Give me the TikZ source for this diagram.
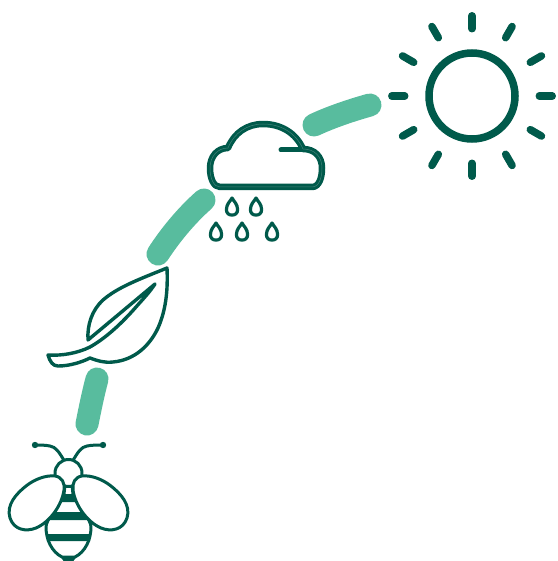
\documentclass[tikz,border=0pt]{standalone}
\definecolor{deep}{HTML}{005A4B}
\definecolor{mint}{HTML}{58BC9E}
\colorlet{sheen}{deep!75!white}
\tikzset{
  link/.style={draw=mint,line width=23pt,line cap=round},
  ray/.style={draw=deep,line width=7.5pt,line cap=round},
  icon/.style={draw=deep,line join=round,line cap=round},
  drop/.pic={\draw[icon,line width=3.2pt,fill=white] (0,-8.5) .. controls (-1.5,-5.5) and (-5.6,-2.5) .. (-5.6,3) .. controls (-5.6,6.8) and (-3.2,8.6) .. (0,8.6) .. controls (3.2,8.6) and (5.6,6.8) .. (5.6,3) .. controls (5.6,-2.5) and (1.5,-5.5) .. (0,-8.5) -- cycle;}
}
\begin{document}
\begin{tikzpicture}[x=1pt,y=-1pt]
\path[use as bounding box,fill=white] (0,0) rectangle (557,561);
\clip (0,0) rectangle (557,561);
% anchors of the connectors
\coordinate (sunA) at (370,105);
\coordinate (sunB) at (314,125);
\coordinate (rainA) at (204,200);
\coordinate (rainB) at (158,254);
\coordinate (leafA) at (97,379);
\coordinate (leafB) at (87,424);
\draw[link] (sunA) .. controls (352,110) and (331,117) .. (sunB);
\draw[link] (rainA) .. controls (187,215) and (171,234) .. (rainB);
\draw[link] (leafA) .. controls (93,394) and (90,409) .. (leafB);
% sun
\node[circle,draw=deep,line width=7.5pt,minimum size=86pt,inner sep=0pt] (sun) at (472,96) {};
\foreach \a in {0,30,...,330}
  \draw[ray,shift={(sun.center)}] (\a:67.3) -- (\a:80.2);
% cloud
\draw[icon,line width=6.5pt] (220,187) -- (312,187)
  .. controls (319,187) and (322,178) .. (322,168)
  .. controls (322,157) and (315,149) .. (303,149)
  .. controls (296,133) and (281,124) .. (263,124)
  .. controls (247,124) and (234,133) .. (228,148)
  .. controls (217,148) and (210,157) .. (210,168)
  .. controls (210,179) and (214,187) .. (220,187) -- cycle;
\draw[icon,line width=5pt] (281,150) -- (304,150);
\draw[sheen,line width=.5pt] (220,187) -- (312,187)
  .. controls (319,187) and (322,178) .. (322,168)
  .. controls (322,157) and (315,149) .. (303,149)
  .. controls (296,133) and (281,124) .. (263,124)
  .. controls (247,124) and (234,133) .. (228,148)
  .. controls (217,148) and (210,157) .. (210,168)
  .. controls (210,179) and (214,187) .. (220,187) -- cycle;
\foreach \x/\y in {232/206.5,256/206.5,216/231.5,242/231.5,272/231.5}
  \pic at (\x,\y) {drop};
% leaf
\draw[icon,line width=3.4pt,fill=white] (167,268)
  .. controls (140,279) and (118,287) .. (103,300)
  .. controls (92,310) and (87,325) .. (88,340)
  -- (155,284)
  .. controls (149,293) and (143,299) .. (136,307)
  .. controls (122,323) and (106,338) .. (90,347)
  .. controls (78,353) and (62,356) .. (48,355)
  .. controls (50,362) and (53,366) .. (58,366)
  .. controls (70,366) and (82,362) .. (90,358)
  .. controls (98,361) and (105,363) .. (113,362)
  .. controls (135,360) and (150,345) .. (158,328)
  .. controls (166,310) and (168,290) .. (167,268) -- cycle;
% bee
\draw[icon,line width=3pt,fill=white] (65,485) -- (64,494)
  .. controls (58,505) and (46,520) .. (46,527)
  .. controls (46,540) and (52,552) .. (62,557) -- (75,557)
  .. controls (85,552) and (91,540) .. (91,527)
  .. controls (91,520) and (79,505) .. (73,494) -- (72,485) -- cycle;
\fill[deep] (64,494) -- (73,494) -- (77,502) -- (60,502) -- cycle;
\fill[deep] (50,512) -- (87,512) -- (90,520) -- (47,520) -- cycle;
\fill[deep] (46,534) -- (91,534) -- (90,541) -- (47,541) -- cycle;
\fill[deep] (60,556) -- (77,556) -- (72,563) -- (65,563) -- cycle;
\draw[icon,line width=3pt] (65,462) .. controls (59,452) and (56,447) .. (50,446) .. controls (45,445) and (40,445) .. (35,445);
\draw[icon,line width=3pt] (72,462) .. controls (78,452) and (81,447) .. (87,446) .. controls (92,445) and (97,445) .. (103,445);
\fill[deep] (35,445) circle (3.2pt);
\fill[deep] (103,445) circle (3.2pt);
\draw[icon,line width=3pt,fill=white] (68.5,473) circle (13.5pt);
\draw[icon,line width=3pt,fill=white] (55,476)
  .. controls (62,477) and (65,483) .. (64,490)
  .. controls (62,505) and (50,522) .. (36,528)
  .. controls (26,532) and (14,530) .. (10,518)
  .. controls (6,505) and (16,494) .. (26,486)
  .. controls (35,479) and (46,475) .. (55,476) -- cycle;
\draw[icon,line width=3pt,fill=white] (82,476)
  .. controls (75,477) and (72,483) .. (73,490)
  .. controls (75,505) and (87,522) .. (101,528)
  .. controls (111,532) and (123,530) .. (127,518)
  .. controls (131,505) and (121,494) .. (111,486)
  .. controls (102,479) and (91,475) .. (82,476) -- cycle;
\end{tikzpicture}
\end{document}
